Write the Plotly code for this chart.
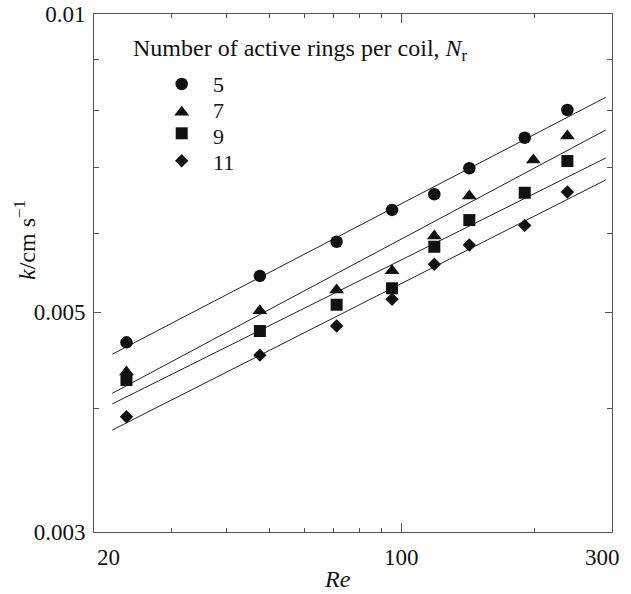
import math
import plotly.graph_objects as go

# ---------------- data ----------------
series_names = ["5", "7", "9", "11"]
re_5 = [23.7, 47.6, 71.1, 95.0, 118.5, 142.3, 190.1, 237.6]
re_7 = [23.7, 47.6, 71.1, 95.0, 118.5, 142.3, 198.9, 237.6]
re_9 = [23.7, 47.6, 71.1, 95.0, 118.5, 142.3, 190.1, 237.6]
re_11 = [23.7, 47.6, 71.1, 95.0, 118.5, 142.3, 190.1, 237.6]
k_5 = [0.004662, 0.005440, 0.005890, 0.006342, 0.006577, 0.006987, 0.007501, 0.008000]
k_7 = [0.004351, 0.005017, 0.005266, 0.005507, 0.005970, 0.006550, 0.007123, 0.007531]
k_9 = [0.004271, 0.004786, 0.005088, 0.005286, 0.005822, 0.006194, 0.006600, 0.007105]
k_11 = [0.003922, 0.004525, 0.004842, 0.005152, 0.005590, 0.005845, 0.006118, 0.006612]

# fitted power-law lines (end points)
fit_re = [22.0, 290.4]
fit_5 = [0.004535, 0.008240]
fit_7 = [0.004141, 0.007637]
fit_9 = [0.004040, 0.007155]
fit_11 = [0.003802, 0.006800]

x_tick_vals = [20, 100, 300]
x_tick_text = ["20", "100", "300"]
x_minor_vals = [30, 40, 50, 60, 70, 80, 90, 200]
y_tick_vals = [0.003, 0.005, 0.01]
y_tick_text = ["0.003", "0.005", "0.01"]
y_minor_vals = [0.004, 0.006, 0.007, 0.008, 0.009]

legend_title = "Number of active rings per coil, <i>N</i><sub>r</sub>"
x_title = "<i>Re</i>"
y_title = "<i>k</i>/cm s<sup>\u22121</sup>"

# ---------------- layout constants ----------------
W, H = 631, 594
L, R, T, B = 94, 19, 14, 62
PW, PH = W - L - R, H - T - B
FONT = "Liberation Serif, Times New Roman, serif"
INK = "#111111"
AXC = "#555555"


def fx(px):
    return (px - L) / PW


def fy(py):
    return (H - B - py) / PH


symbols = ["circle", "triangle-up", "square", "diamond"]
sizes = [12.5, 13, 12, 10.3]
re_all = [re_5, re_7, re_9, re_11]
k_all = [k_5, k_7, k_9, k_11]
fit_all = [fit_5, fit_7, fit_9, fit_11]

fig = go.Figure()

for name, xs, ys, fit in zip(series_names, re_all, k_all, fit_all):
    fig.add_trace(go.Scatter(x=fit_re, y=fit, mode="lines",
                             line=dict(color="#222222", width=1),
                             showlegend=False, hoverinfo="skip"))

for name, xs, ys, sym, sz in zip(series_names, re_all, k_all, symbols, sizes):
    fig.add_trace(go.Scatter(x=xs, y=ys, mode="markers", name=name,
                             marker=dict(symbol=sym, size=sz, color=INK, line=dict(width=0)),
                             showlegend=False))

# manual legend
leg_marker_px = 181.7
leg_marker_py = [84.0, 112.3, 133.3, 160.7]
leg_label_px = 211.0
leg_label_py = [84.5, 111.0, 136.0, 162.5]
for name, sym, sz, py in zip(series_names, symbols, sizes, leg_marker_py):
    fig.add_trace(go.Scatter(x=[fx(leg_marker_px)], y=[fy(py)], mode="markers",
                             xaxis="x2", yaxis="y2",
                             marker=dict(symbol=sym, size=sz, color=INK, line=dict(width=0)),
                             showlegend=False, hoverinfo="skip"))

annotations = []
for name, py in zip(series_names, leg_label_py):
    annotations.append(dict(text=name, xref="paper", yref="paper", x=fx(leg_label_px), y=fy(py),
                            xanchor="left", yanchor="middle", showarrow=False,
                            font=dict(family=FONT, size=22, color=INK)))
annotations.append(dict(text=legend_title, xref="paper", yref="paper", x=fx(131), y=fy(50),
                        xanchor="left", yanchor="middle", showarrow=False,
                        font=dict(family=FONT, size=24, color=INK)))
annotations.append(dict(text=x_title, xref="paper", yref="paper", x=fx(337.5), y=fy(579),
                        xanchor="center", yanchor="middle", showarrow=False,
                        font=dict(family=FONT, size=24, color=INK)))
annotations.append(dict(text=y_title, xref="paper", yref="paper", x=fx(25), y=fy(240),
                        xanchor="center", yanchor="middle", showarrow=False, textangle=-90,
                        font=dict(family=FONT, size=24, color=INK)))
x_label_shift = [14, 0, -10]
for v, t, s in zip(x_tick_vals, x_tick_text, x_label_shift):
    annotations.append(dict(text=t, xref="x", yref="paper", x=math.log10(v), y=fy(557),
                            xanchor="center", yanchor="middle", xshift=s, showarrow=False,
                            font=dict(family=FONT, size=23, color=INK)))

fig.update_layout(
    width=W, height=H, autosize=False,
    margin=dict(l=L, r=R, t=T, b=B, pad=0, autoexpand=False),
    paper_bgcolor="white", plot_bgcolor="white",
    font=dict(family=FONT, size=23, color=INK),
    showlegend=False,
    annotations=annotations,
    xaxis=dict(type="log", range=[math.log10(20), math.log10(300)], automargin=False,
               tickvals=x_tick_vals, ticktext=x_tick_text, showticklabels=False,
               ticks="inside", ticklen=9, tickwidth=1, tickcolor=AXC,
               minor=dict(tickvals=x_minor_vals, ticks="inside", ticklen=4, tickwidth=1, tickcolor=AXC),
               showline=True, linecolor=AXC, linewidth=1, mirror="ticks",
               showgrid=False, zeroline=False),
    yaxis=dict(type="log", range=[math.log10(0.003), math.log10(0.01)], automargin=False,
               tickvals=y_tick_vals, ticktext=y_tick_text,
               ticks="inside", ticklen=7, tickwidth=1, tickcolor=AXC,
               minor=dict(tickvals=y_minor_vals, ticks="inside", ticklen=5, tickwidth=1, tickcolor=AXC),
               showline=True, linecolor=AXC, linewidth=1, mirror="ticks",
               showgrid=False, zeroline=False, ticklabelstandoff=3,
               tickfont=dict(family=FONT, size=23, color=INK)),
    xaxis2=dict(overlaying="x", range=[0, 1], visible=False, fixedrange=True),
    yaxis2=dict(overlaying="y", range=[0, 1], visible=False, fixedrange=True),
)

fig.write_html("out.html")
